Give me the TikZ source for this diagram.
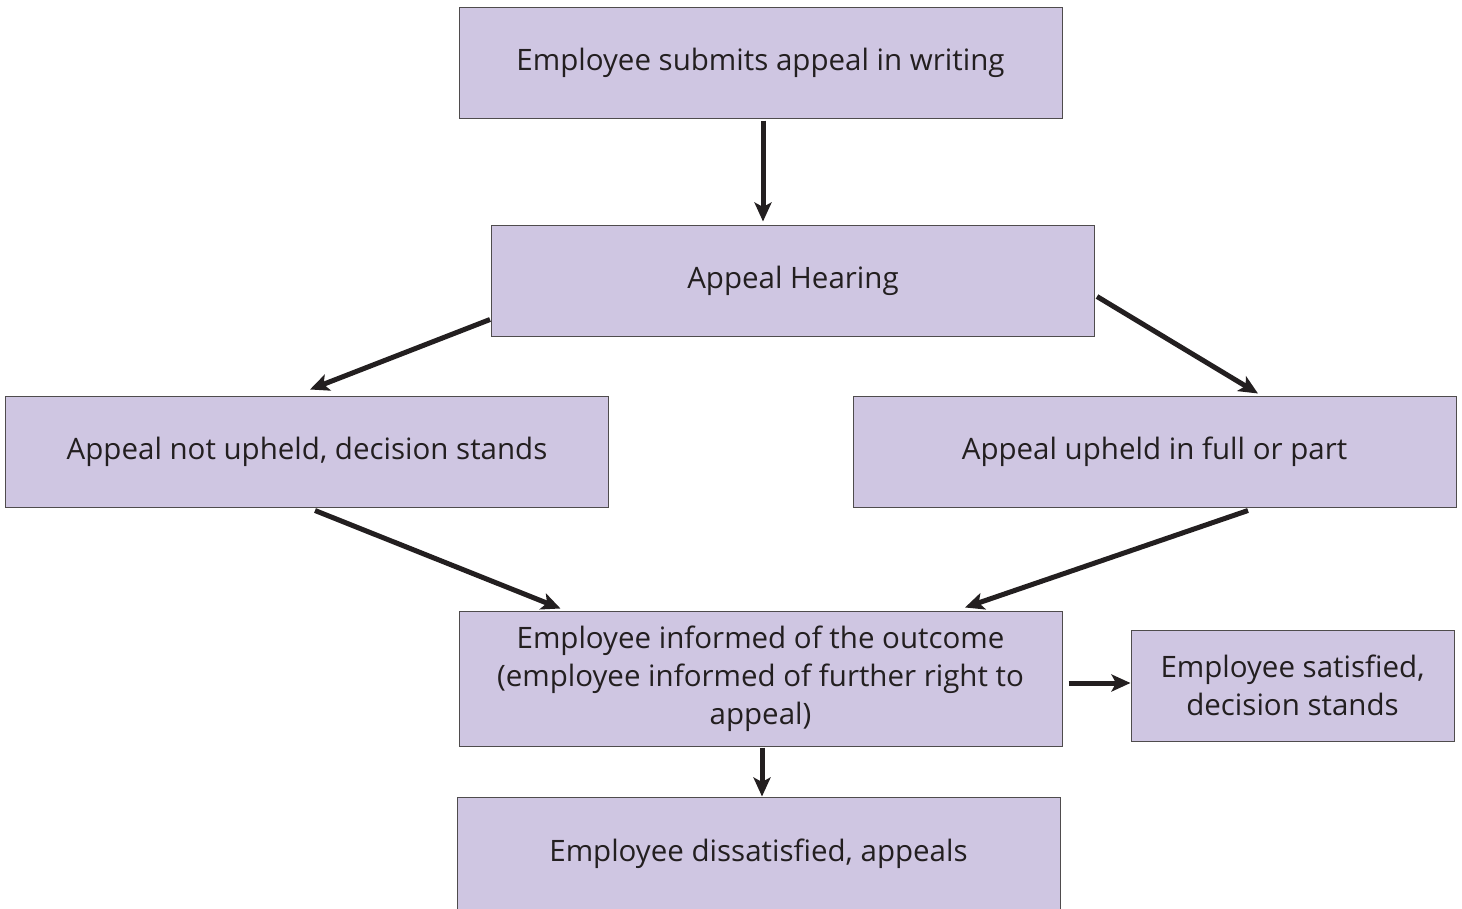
\documentclass[tikz,border=0pt]{standalone}
\usepackage{fontspec}
\setmainfont{Open Sans}
\usetikzlibrary{arrows.meta}

\definecolor{boxfill}{HTML}{CFC6E2}
\definecolor{ink}{HTML}{231F20}

\tikzset{
  stage/.style={draw=ink!80, line width=1pt, fill=boxfill, text=ink,
    minimum width=603pt, minimum height=111pt, align=center,
    font=\fontsize{29.5}{38}\selectfont, inner sep=0pt},
  flow/.style={ink, line width=5pt, -{Stealth[length=19pt,width=17pt,inset=4.5pt]}}
}

\begin{document}
\begin{tikzpicture}[x=1pt,y=-1pt]
  \useasboundingbox (0,0) rectangle (1462,908);

  % boxes
  \node[stage] (submit) at (760.5,62.5) {Employee submits appeal in writing};
  \node[stage] (hear) at (793,280.5) {Appeal Hearing};
  \node[stage] (notup) at (307,451.5) {Appeal not upheld, decision stands};
  \node[stage] (upheld) at (1154.5,451.5) {Appeal upheld in full or part};
  \node[stage, minimum height=135pt] (told) at (760.5,678.5)
       {Employee informed of the outcome\\(employee informed of further right to\\appeal)};
  \node[stage, minimum width=323pt] (happy) at (1292.5,685.5)
       {Employee satisfied,\\decision stands};
  \node[stage, minimum height=113pt] (unhappy) at (758.5,853.5)
       {\raisebox{3pt}{Employee dissatisfied, appeals}};

  % arrows
  \draw[flow] ([xshift=2.5pt,yshift=-2pt]submit.south) -- ([xshift=-30pt,yshift=3pt]hear.north);
  \draw[flow] ([xshift=-1pt,yshift=17pt]hear.south west) -- ([xshift=3pt,yshift=6pt]notup.north);
  \draw[flow] ([xshift=2pt,yshift=40pt]hear.south east) -- ([xshift=103.5pt,yshift=2pt]upheld.north);
  \draw[flow] ([xshift=8pt,yshift=-3pt]notup.south) -- ([xshift=-200pt,yshift=2pt]told.north);
  \draw[flow] ([xshift=93.5pt,yshift=-3pt]upheld.south) -- ([xshift=204.5pt,yshift=3pt]told.north);
  \draw[flow] ([xshift=6pt,yshift=-4.5pt]told.east) -- ([yshift=2.5pt]happy.west);
  \draw[flow] ([xshift=1.5pt,yshift=-1pt]told.south) -- ([xshift=3.5pt]unhappy.north);
\end{tikzpicture}
\end{document}
